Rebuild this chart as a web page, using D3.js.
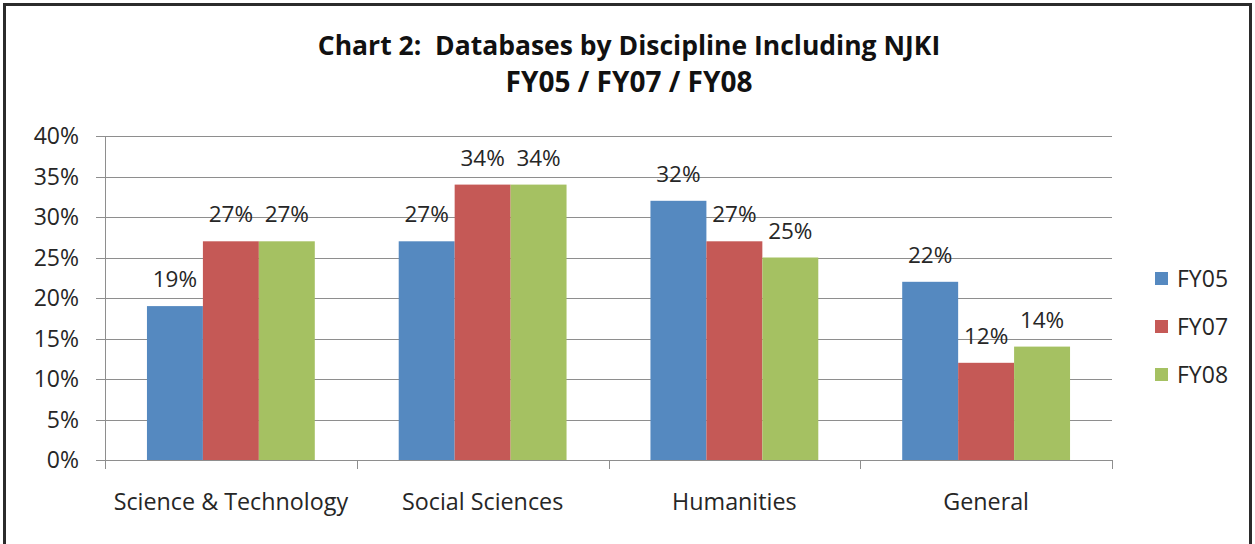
<!DOCTYPE html>
<html>
<head>
<meta charset="utf-8">
<script src="https://cdn.jsdelivr.net/npm/d3@7"></script>
<style>
  html, body { margin: 0; padding: 0; background: #fff; }
  svg { display: block; font-family: "Open Sans", "Noto Sans", sans-serif; }
  .title { white-space: pre; }
</style>
</head>
<body>
<svg id="chart" width="1255" height="544"></svg>
<script>
const categories = ["Science & Technology", "Social Sciences", "Humanities", "General"];
const seriesNames = ["FY05", "FY07", "FY08"];
const fy05 = [0.19, 0.27, 0.32, 0.22];
const fy07 = [0.27, 0.34, 0.27, 0.12];
const fy08 = [0.27, 0.34, 0.25, 0.14];
const yTicks = [0, 0.05, 0.10, 0.15, 0.20, 0.25, 0.30, 0.35, 0.40];
const colors = ["#5589C0", "#C55956", "#A5C162"];
const titleLines = ["Chart 2:  Databases by Discipline Including NJKI", "FY05 / FY07 / FY08"];

const series = [fy05, fy07, fy08];
const svg = d3.select("#chart");

// Outer frame
svg.append("rect").attr("x", 4.5).attr("y", 4.5).attr("width", 1246).attr("height", 560)
  .attr("fill", "#fff").attr("stroke", "#2b2b2b").attr("stroke-width", 3);

const plot = { left: 105, right: 1112, top: 136, bottom: 460 };

const x0 = d3.scaleBand().domain(categories).range([plot.left, plot.right]).paddingInner(0).paddingOuter(0);
const groupPad = x0.bandwidth() / 6; // gap width 150%
const x1 = d3.scaleBand().domain(seriesNames).range([groupPad, x0.bandwidth() - groupPad]).padding(0);
const y = d3.scaleLinear().domain([0, 0.40]).range([plot.bottom, plot.top]);

// Gridlines
svg.append("g").selectAll("line").data(yTicks).join("line")
  .attr("x1", plot.left - 9).attr("x2", plot.right)
  .attr("y1", d => Math.round(y(d)) + 0.5).attr("y2", d => Math.round(y(d)) + 0.5)
  .attr("stroke", "#8e8e8e").attr("stroke-width", 1);

// Y axis line
svg.append("line").attr("x1", plot.left + 0.5).attr("x2", plot.left + 0.5)
  .attr("y1", plot.top).attr("y2", plot.bottom + 9)
  .attr("stroke", "#8e8e8e");

// X category ticks
const catEdges = categories.map(c => x0(c)).concat([plot.right]);
svg.append("g").selectAll("line").data(catEdges).join("line")
  .attr("x1", d => Math.round(d) + 0.5).attr("x2", d => Math.round(d) + 0.5)
  .attr("y1", plot.bottom).attr("y2", plot.bottom + 9)
  .attr("stroke", "#8e8e8e");

// Y tick labels
svg.append("g").selectAll("text").data(yTicks).join("text")
  .attr("x", 79).attr("y", d => y(d) + 8)
  .attr("text-anchor", "end").attr("font-size", 23).attr("fill", "#262626")
  .text(d => d3.format(".0%")(d));

// Bars
const groups = svg.append("g").selectAll("g").data(categories).join("g")
  .attr("transform", c => `translate(${x0(c)},0)`);
groups.selectAll("rect").data((c, i) => seriesNames.map((s, j) => ({ s, j, v: series[j][i] })))
  .join("rect")
  .attr("x", d => x1(d.s)).attr("width", x1.bandwidth())
  .attr("y", d => y(d.v)).attr("height", d => y(0) - y(d.v))
  .attr("fill", d => colors[d.j]);

// Data labels
groups.selectAll("text").data((c, i) => seriesNames.map((s, j) => ({ s, j, v: series[j][i] })))
  .join("text")
  .attr("x", d => x1(d.s) + x1.bandwidth() / 2).attr("y", d => y(d.v) - 19)
  .attr("text-anchor", "middle").attr("font-size", 22.5).attr("fill", "#262626")
  .text(d => d3.format(".0%")(d.v));

// Category labels
svg.append("g").selectAll("text").data(categories).join("text")
  .attr("x", c => x0(c) + x0.bandwidth() / 2).attr("y", 510)
  .attr("text-anchor", "middle").attr("font-size", 23.3).attr("fill", "#262626")
  .text(c => c);

// Title
svg.append("g").selectAll("text").data(titleLines).join("text")
  .attr("class", "title")
  .attr("x", 629).attr("y", (d, i) => 55 + i * 37)
  .attr("text-anchor", "middle").attr("font-size", (d, i) => i === 0 ? 26.5 : 28)
  .attr("font-weight", "bold").attr("fill", "#111")
  .text(d => d);

// Legend
const legend = svg.append("g").selectAll("g").data(seriesNames).join("g")
  .attr("transform", (d, i) => `translate(1155,${272 + i * 48})`);
legend.append("rect").attr("width", 13).attr("height", 13).attr("fill", (d, i) => colors[i]);
legend.append("text").attr("x", 22).attr("y", 14.5).attr("font-size", 23).attr("fill", "#262626").text(d => d);
</script>
</body>
</html>
